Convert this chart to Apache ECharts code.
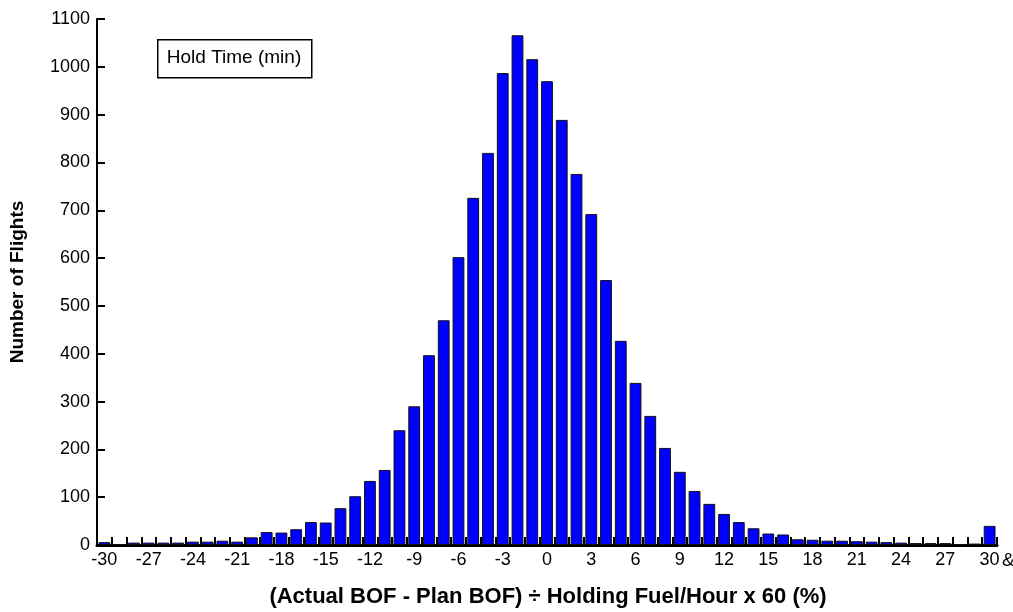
<!DOCTYPE html>
<html>
<head>
<meta charset="utf-8">
<script src="https://cdn.jsdelivr.net/npm/echarts@6/dist/echarts.min.js"></script>
<style>
html,body{margin:0;padding:0;background:#fff;}
#chart{width:1013px;height:612px;}
</style>
</head>
<body>
<div id="chart"></div>
<script>
// Bin centres (percent) and number of flights per bin
const categories = [-30,-29,-28,-27,-26,-25,-24,-23,-22,-21,-20,-19,-18,-17,-16,-15,-14,-13,-12,-11,-10,-9,-8,-7,-6,-5,-4,-3,-2,-1,0,1,2,3,4,5,6,7,8,9,10,11,12,13,14,15,16,17,18,19,20,21,22,23,24,25,26,27,28,29,30].map(String);
const flights = [6,2,5,5,5,5,7,7,9,7,16,27,26,33,48,47,77,102,134,157,240,290,397,470,602,726,820,987,1066,1016,970,889,776,692,554,427,339,270,203,153,113,86,65,48,35,24,22,12,11,9,9,8,7,6,5,4,4,4,2,3,40];
const yTicks = {min: 0, max: 1100, step: 100};
const legendText = 'Hold Time (min)';
const xTitle = '(Actual BOF - Plan BOF) \u00F7 Holding Fuel/Hour x 60 (%)';
const yTitle = 'Number of Flights';

const FONT = '"Liberation Sans", Arial, sans-serif';
const chart = echarts.init(document.getElementById('chart'), null, {renderer: 'canvas'});
chart.setOption({
  animation: false,
  backgroundColor: '#fff',
  grid: {left: 97, right: 16, top: 19, bottom: 67, containLabel: false},
  xAxis: {
    type: 'category',
    data: categories,
    boundaryGap: true,
    z: 0,
    axisLine: {lineStyle: {color: '#000', width: 3}},
    axisTick: {show: true, inside: true, length: 8, interval: 0, lineStyle: {color: '#000', width: 2}},
    axisLabel: {interval: 2, color: '#000', fontFamily: FONT, fontSize: 18, margin: 6},
    splitLine: {show: false}
  },
  yAxis: {
    type: 'value',
    min: yTicks.min, max: yTicks.max, interval: yTicks.step,
    axisLine: {show: true, lineStyle: {color: '#000', width: 2}},
    axisTick: {show: true, inside: true, length: 8, lineStyle: {color: '#000', width: 2}},
    axisLabel: {color: '#000', fontFamily: FONT, fontSize: 18, margin: 7, formatter: v => String(v)},
    splitLine: {show: false}
  },
  series: [{
    type: 'bar',
    z: 10,
    data: flights,
    barCategoryGap: '20%',
    itemStyle: {color: '#0000ff', borderColor: '#111', borderWidth: 1}
  }],
  graphic: [
    {type: 'rect', left: 157, top: 39, shape: {width: 154, height: 38}, style: {fill: '#fff', stroke: '#000', lineWidth: 1.5}, z: 10},
    {type: 'text', x: 234, y: 58, style: {text: legendText, font: '19px ' + FONT, fill: '#000', align: 'center', verticalAlign: 'middle'}, z: 11},
    {type: 'text', x: 548, y: 597, style: {text: xTitle, font: 'bold 22px ' + FONT, fill: '#000', align: 'center', verticalAlign: 'middle'}},
    {type: 'text', x: 18, y: 282, rotation: Math.PI / 2, style: {text: yTitle, font: 'bold 19px ' + FONT, fill: '#000', align: 'center', verticalAlign: 'middle'}},
    {type: 'text', x: 1002, y: 561, style: {text: '&', font: '19px ' + FONT, fill: '#000', align: 'left', verticalAlign: 'middle'}}
  ]
});
</script>
</body>
</html>
